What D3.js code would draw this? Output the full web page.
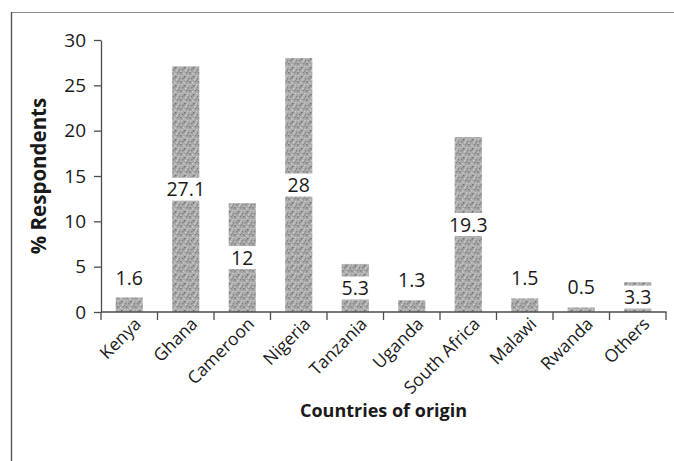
<!DOCTYPE html>
<html>
<head>
<meta charset="utf-8">
<script src="https://cdn.jsdelivr.net/npm/d3@7"></script>
<style>
  html, body { margin: 0; padding: 0; background: #fff; }
  svg { display: block; }
  text { font-family: "Open Sans", "DejaVu Sans", sans-serif; fill: #1a1a1a; }
</style>
</head>
<body>
<script>
const categories = ["Kenya", "Ghana", "Cameroon", "Nigeria", "Tanzania", "Uganda", "South Africa", "Malawi", "Rwanda", "Others"];
const values = [1.6, 27.1, 12, 28, 5.3, 1.3, 19.3, 1.5, 0.5, 3.3];
const yTicks = [0, 5, 10, 15, 20, 25, 30];
const yTitle = "% Respondents";
const xTitle = "Countries of origin";

const W = 674, H = 461;
const margin = { left: 101, right: 8, top: 40, bottom: 149 };

const svg = d3.select("body").append("svg").attr("width", W).attr("height", H);

// texture pattern for bars
const defs = svg.append("defs");
const pat = defs.append("pattern").attr("id", "tex").attr("patternUnits", "userSpaceOnUse")
  .attr("width", 9).attr("height", 9);
pat.append("rect").attr("width", 9).attr("height", 9).attr("fill", "#a9a9a9");
const specks = [
  [0,0,"#777"],[3,1,"#cdcdcd"],[6,0,"#888"],[1,3,"#c6c6c6"],[4,4,"#6e6e6e"],
  [7,3,"#cccccc"],[2,6,"#838383"],[5,7,"#d2d2d2"],[8,6,"#7f7f7f"],[0,8,"#c2c2c2"],
  [3,5,"#929292"],[6,5,"#c7c7c7"],[1,1,"#979797"],[7,8,"#8c8c8c"],[4,2,"#bdbdbd"]
];
specks.forEach(s => pat.append("rect").attr("x", s[0]).attr("y", s[1]).attr("width", 1.4).attr("height", 1.4).attr("fill", s[2]));

// frame lines
svg.append("line").attr("x1", 11).attr("x2", W).attr("y1", 12.5).attr("y2", 12.5).attr("stroke", "#8c8c8c").attr("stroke-width", 1.2);
svg.append("line").attr("x1", 11.5).attr("x2", 11.5).attr("y1", 12).attr("y2", H).attr("stroke", "#555").attr("stroke-width", 1.4);

const x = d3.scaleBand().domain(categories)
  .range([margin.left, W - margin.right]).paddingInner(0.52).paddingOuter(0.26);
const y = d3.scaleLinear().domain([0, 30]).range([H - margin.bottom, margin.top]);

const axisColor = "#4d4d4d";

// bars
svg.append("g").selectAll("rect").data(values).join("rect")
  .attr("x", (d, i) => x(categories[i]))
  .attr("y", d => y(d))
  .attr("width", x.bandwidth())
  .attr("height", d => y(0) - y(d))
  .attr("fill", "url(#tex)");

// y axis
const yAxis = svg.append("g").attr("transform", `translate(${margin.left},0)`)
  .call(d3.axisLeft(y).tickValues(yTicks).tickSize(7).tickPadding(8).tickSizeOuter(0));
yAxis.select(".domain").attr("stroke", axisColor).attr("stroke-width", 1.3);
yAxis.selectAll(".tick line").attr("stroke", axisColor).attr("stroke-width", 1.3);
yAxis.selectAll(".tick text").style("font-size", "19px").style("font-family", "'Open Sans', sans-serif").attr("fill", "#1a1a1a");

// x axis with ticks at band boundaries
const y0 = y(0);
svg.append("line").attr("x1", margin.left).attr("x2", W - margin.right + 0.5)
  .attr("y1", y0).attr("y2", y0).attr("stroke", axisColor).attr("stroke-width", 1.3);
const step = x.step();
const boundaries = categories.map(c => x(c) - (step - x.bandwidth()) / 2).concat([W - margin.right]);
svg.append("g").selectAll("line").data(boundaries).join("line")
  .attr("x1", d => d).attr("x2", d => d).attr("y1", y0).attr("y2", y0 + 8)
  .attr("stroke", axisColor).attr("stroke-width", 1.3);

// category labels rotated
svg.append("g").selectAll("text").data(categories).join("text")
  .attr("transform", c => `translate(${x(c) + x.bandwidth() / 2 + 13},${y0 + 13}) rotate(-45)`)
  .attr("text-anchor", "end")
  .style("font-size", "17.5px")
  .text(c => c);

// value labels
const labels = svg.append("g");
values.forEach((v, i) => {
  const cx = x(categories[i]) + x.bandwidth() / 2;
  const small = v < 3;
  const cy = small ? y(v) - 20 : y(v / 2);
  const g = labels.append("g");
  const t = g.append("text").attr("x", cx).attr("y", cy).attr("dy", "0.36em")
    .attr("text-anchor", "middle").style("font-size", "19.5px").text(String(v));
  if (!small) {
    const bb = t.node().getBBox();
    const w = Math.max(bb.width + 4, x.bandwidth() + 4);
    g.insert("rect", "text").attr("x", cx - w / 2).attr("y", cy - 11.5)
      .attr("width", w).attr("height", 23).attr("fill", "#fff");
  }
});

// titles
svg.append("text").attr("transform", `translate(46,${(y(0) + y(30)) / 2}) rotate(-90)`)
  .attr("text-anchor", "middle").style("font-size", "20.5px").style("font-weight", "bold")
  .text(yTitle);
svg.append("text").attr("x", (margin.left + W - margin.right) / 2).attr("y", 417)
  .attr("text-anchor", "middle").style("font-size", "18px").style("font-weight", "bold")
  .text(xTitle);
</script>
</body>
</html>
